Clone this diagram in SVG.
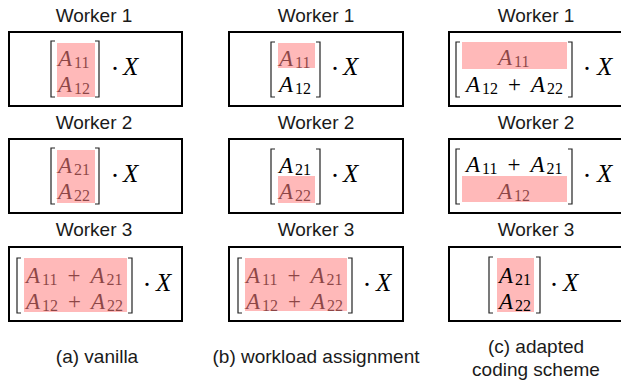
<svg xmlns="http://www.w3.org/2000/svg" width="621" height="383" viewBox="0 0 621 383">
<style>
.box{fill:none;stroke:#000;stroke-width:2}
.br{fill:none;stroke:#222;stroke-width:1.2}
.hl{fill:#ff8080;fill-opacity:0.55}
.hlb{fill:#ffb9b9}
.lbl{font-family:"Liberation Sans",Arial,sans-serif;font-size:19px;fill:#1a1a1a;text-anchor:middle}
.m{font-family:"Liberation Serif","Times New Roman",serif;font-size:23px;font-style:italic;fill:#000}
.s{font-style:normal;font-size:16px}
.op{font-style:normal}
.x{font-family:"Liberation Serif","Times New Roman",serif;font-size:25px;font-style:italic;fill:#000}
.dot{font-family:"Liberation Serif","Times New Roman",serif;font-size:27px;fill:#000;text-anchor:middle}
</style>

<g id="labels">
<text class="lbl" x="94" y="22">Worker 1</text>
<text class="lbl" x="94" y="129">Worker 2</text>
<text class="lbl" x="94" y="236">Worker 3</text>
<text class="lbl" x="316" y="22">Worker 1</text>
<text class="lbl" x="316" y="129">Worker 2</text>
<text class="lbl" x="316" y="236">Worker 3</text>
<text class="lbl" x="536" y="22">Worker 1</text>
<text class="lbl" x="536" y="129">Worker 2</text>
<text class="lbl" x="536" y="236">Worker 3</text>
</g>

<g id="captions">
<text class="lbl" x="97" y="363">(a) vanilla</text>
<text class="lbl" x="316" y="363">(b) workload assignment</text>
<text class="lbl" x="536" y="353">(c) adapted</text>
<text class="lbl" x="536" y="376">coding scheme</text>
</g>

<!-- column a -->
<g id="a-worker1">
<rect class="box" x="9" y="32" width="173" height="74"/>
<path class="br" d="M55,41H51V97H55"/>
<path class="br" d="M95,41H99V97H95"/>
<text class="m" x="58" y="66">A<tspan class="s" dx="2" dy="2">11</tspan></text>
<text class="m" x="58" y="92">A<tspan class="s" dx="2" dy="2">12</tspan></text>
<rect class="hl" x="57" y="43" width="38" height="54"/>
<text class="dot" x="115" y="78">·</text>
<text class="x" x="123" y="75">X</text>
</g>

<g id="a-worker2">
<rect class="box" x="9" y="139" width="173" height="74"/>
<path class="br" d="M55,148H51V204H55"/>
<path class="br" d="M95,148H99V204H95"/>
<text class="m" x="58" y="173">A<tspan class="s" dx="2" dy="2">21</tspan></text>
<text class="m" x="58" y="199">A<tspan class="s" dx="2" dy="2">22</tspan></text>
<rect class="hl" x="57" y="150" width="38" height="53"/>
<text class="dot" x="115" y="185">·</text>
<text class="x" x="123" y="182">X</text>
</g>

<g id="a-worker3">
<rect class="box" x="9" y="247" width="173" height="74"/>
<path class="br" d="M21,258H17V313H21"/>
<path class="br" d="M128,258H132V313H128"/>
<text class="m" x="26" y="283">A<tspan class="s" dx="2" dy="2">11</tspan><tspan class="op" dx="10" dy="-2">+</tspan><tspan dx="10">A</tspan><tspan class="s" dx="2" dy="2">21</tspan></text>
<text class="m" x="26" y="309">A<tspan class="s" dx="2" dy="2">12</tspan><tspan class="op" dx="10" dy="-2">+</tspan><tspan dx="10">A</tspan><tspan class="s" dx="2" dy="2">22</tspan></text>
<rect class="hl" x="24" y="258" width="103" height="54"/>
<text class="dot" x="147" y="294">·</text>
<text class="x" x="156" y="291">X</text>
</g>

<!-- column b -->
<g id="b-worker1">
<rect class="box" x="229" y="32" width="174" height="74"/>
<path class="br" d="M275,42H271V97H275"/>
<path class="br" d="M316,42H320V97H316"/>
<text class="m" x="279" y="66">A<tspan class="s" dx="2" dy="2">11</tspan></text>
<text class="m" x="279" y="92">A<tspan class="s" dx="2" dy="2">12</tspan></text>
<rect class="hl" x="278" y="43" width="37" height="25"/>
<text class="dot" x="335" y="78">·</text>
<text class="x" x="343" y="75">X</text>
</g>

<g id="b-worker2">
<rect class="box" x="229" y="139" width="174" height="74"/>
<path class="br" d="M275,149H271V204H275"/>
<path class="br" d="M316,149H320V204H316"/>
<text class="m" x="279" y="173">A<tspan class="s" dx="2" dy="2">21</tspan></text>
<text class="m" x="279" y="199">A<tspan class="s" dx="2" dy="2">22</tspan></text>
<rect class="hl" x="278" y="176" width="37" height="27"/>
<text class="dot" x="335" y="185">·</text>
<text class="x" x="343" y="182">X</text>
</g>

<g id="b-worker3">
<rect class="box" x="229" y="247" width="174" height="74"/>
<path class="br" d="M242,258H238V313H242"/>
<path class="br" d="M348,258H352V313H348"/>
<text class="m" x="246" y="283">A<tspan class="s" dx="2" dy="2">11</tspan><tspan class="op" dx="10" dy="-2">+</tspan><tspan dx="10">A</tspan><tspan class="s" dx="2" dy="2">21</tspan></text>
<text class="m" x="246" y="309">A<tspan class="s" dx="2" dy="2">12</tspan><tspan class="op" dx="10" dy="-2">+</tspan><tspan dx="10">A</tspan><tspan class="s" dx="2" dy="2">22</tspan></text>
<rect class="hl" x="245" y="258" width="102" height="53"/>
<text class="dot" x="367" y="294">·</text>
<text class="x" x="376" y="291">X</text>
</g>

<!-- column c -->
<g id="c-worker1">
<rect class="box" x="449" y="32" width="174" height="74"/>
<path class="br" d="M460,42H456V97H460"/>
<path class="br" d="M568,42H572V97H568"/>
<text class="m" x="498" y="65">A<tspan class="s" dx="2" dy="2">11</tspan></text>
<text class="m" x="466" y="92">A<tspan class="s" dx="2" dy="2">12</tspan><tspan class="op" dx="10" dy="-2">+</tspan><tspan dx="10">A</tspan><tspan class="s" dx="2" dy="2">22</tspan></text>
<rect class="hl" x="462" y="42" width="105" height="27"/>
<text class="dot" x="587" y="78">·</text>
<text class="x" x="597" y="75">X</text>
</g>

<g id="c-worker2">
<rect class="box" x="449" y="139" width="174" height="74"/>
<path class="br" d="M460,149H456V204H460"/>
<path class="br" d="M568,149H572V204H568"/>
<text class="m" x="466" y="172">A<tspan class="s" dx="2" dy="2">11</tspan><tspan class="op" dx="10" dy="-2">+</tspan><tspan dx="10">A</tspan><tspan class="s" dx="2" dy="2">21</tspan></text>
<text class="m" x="498" y="199">A<tspan class="s" dx="2" dy="2">12</tspan></text>
<rect class="hl" x="462" y="176" width="105" height="26"/>
<text class="dot" x="587" y="185">·</text>
<text class="x" x="597" y="182">X</text>
</g>

<g id="c-worker3">
<rect class="box" x="449" y="247" width="174" height="74"/>
<rect class="hlb" x="497" y="258" width="37" height="54"/>
<path class="br" d="M493,257H489V313H493"/>
<path class="br" d="M536,257H540V313H536"/>
<text class="m" x="499" y="283">A<tspan class="s" dx="2" dy="2">21</tspan></text>
<text class="m" x="499" y="309">A<tspan class="s" dx="2" dy="2">22</tspan></text>
<text class="dot" x="554" y="294">·</text>
<text class="x" x="563" y="291">X</text>
</g>
</svg>
